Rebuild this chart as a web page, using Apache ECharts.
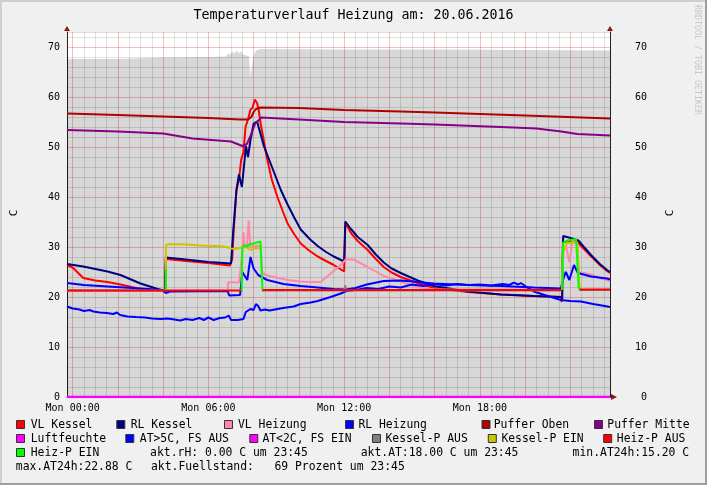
<!DOCTYPE html>
<html><head><meta charset="utf-8">
<script src="https://cdn.jsdelivr.net/npm/echarts@6/dist/echarts.min.js"></script>
<style>html,body{margin:0;padding:0;background:#f0f0f0;}#c{width:707px;height:485px;}</style>
</head><body><div id="c"></div>
<script>
// ---------- text ----------
const chartTitle = 'Temperaturverlauf Heizung am: 20.06.2016';
const yAxisName = 'C';
const watermark = 'RRDTOOL / TOBI OETIKER';
const xTickHours = [0, 6, 12, 18];
const xTickLabels = ['Mon 00:00', 'Mon 06:00', 'Mon 12:00', 'Mon 18:00'];
const xMin = -0.25, xMax = 23.75;      // hours
const yMin = 0, yMax = 73;

// ---------- data (hours, °C) ----------
const fuellT = [-0.25, 1.95, 2.0, 4.0, 6.0, 6.8, 6.85, 6.95, 7.05, 7.15, 7.25, 7.35, 7.45, 7.55, 7.6, 7.8, 7.85, 7.92, 7.98, 8.05, 8.1, 8.3, 12, 16, 20, 23.75];
const fuellV = [67.6, 67.6, 67.8, 67.9, 68.0, 68.1, 68.7, 68.4, 69.2, 68.6, 69.3, 68.8, 69.1, 68.5, 68.2, 68.1, 64.2, 66.0, 68.2, 68.3, 69.3, 69.6, 69.5, 69.5, 69.4, 69.3];

const vlKesselT = [-0.25, 0.0, 0.47, 1.0, 1.54, 2.11, 3.0, 3.9, 4.08, 4.12, 5.0, 6.0, 6.95, 7.05, 7.12, 7.24, 7.35, 7.45, 7.55, 7.64, 7.75, 7.86, 7.95, 8.05, 8.15, 8.22, 8.31, 8.45, 8.6, 8.8, 9.05, 9.3, 9.5, 9.8, 10.08, 10.45, 10.83, 11.2, 11.54, 12.0, 12.05, 12.16, 12.3, 12.6, 13.04, 13.4, 13.75, 14.1, 14.5, 15.25, 15.96, 17.5, 18.93, 20.4, 21.55, 21.62, 21.67, 22.3, 22.6, 22.9, 23.3, 23.62, 23.75];
const vlKesselV = [26.4, 25.9, 23.8, 23.3, 23.0, 22.5, 21.6, 21.3, 21.0, 27.6, 27.2, 26.8, 26.3, 27.5, 33.4, 41.4, 43.5, 47.5, 49.0, 54.0, 55.5, 57.5, 57.8, 59.5, 58.8, 57.5, 54.7, 51.2, 47.5, 43.5, 40.0, 37.0, 34.7, 32.5, 30.7, 29.3, 28.1, 27.2, 26.4, 25.1, 34.4, 34.0, 32.8, 31.2, 29.4, 27.6, 26.0, 24.9, 24.0, 22.8, 21.8, 21.0, 20.5, 20.2, 20.0, 19.0, 31.0, 31.0, 29.6, 28.2, 26.4, 25.2, 24.8];

const rlKesselT = [-0.25, 0.47, 1.54, 2.11, 3.0, 3.9, 4.08, 4.12, 5.0, 6.0, 7.0, 7.1, 7.24, 7.35, 7.48, 7.58, 7.66, 7.75, 7.86, 8.0, 8.15, 8.3, 8.45, 8.75, 9.2, 9.5, 9.78, 10.08, 10.5, 10.83, 11.2, 11.54, 12.0, 12.05, 12.12, 12.3, 12.6, 13.04, 13.4, 13.75, 14.1, 14.5, 15.25, 15.96, 17.46, 18.93, 20.38, 21.58, 21.64, 21.68, 22.0, 22.35, 22.6, 22.91, 23.3, 23.62, 23.75];
const rlKesselV = [26.6, 26.1, 25.1, 24.4, 22.7, 21.4, 21.1, 27.9, 27.5, 27.0, 26.7, 33.4, 41.4, 44.5, 42.0, 46.5, 50.2, 48.0, 51.4, 54.7, 55.1, 52.7, 50.2, 46.7, 41.4, 38.5, 36.0, 33.5, 31.5, 30.2, 29.0, 28.1, 27.1, 35.1, 34.7, 33.6, 32.0, 30.4, 28.5, 26.9, 25.7, 24.8, 23.3, 22.2, 21.1, 20.5, 20.2, 20.0, 19.5, 32.2, 31.8, 31.3, 30.0, 28.4, 26.6, 25.4, 25.0];

const vlHeizungT = [-0.25, 6.85, 6.88, 7.35, 7.42, 7.5, 7.55, 7.6, 7.7, 7.78, 7.85, 8.0, 8.3, 8.38, 8.6, 9.0, 9.5, 10.08, 10.5, 10.96, 11.4, 11.85, 12.07, 12.42, 13.04, 13.75, 14.5, 15.2, 16.0, 21.6, 21.7, 21.8, 21.95, 22.1, 22.3, 22.38, 22.9, 23.35, 23.75];
const vlHeizungV = [21.2, 21.2, 23.0, 22.9, 22.5, 29.0, 33.0, 30.0, 30.0, 35.3, 30.0, 30.2, 30.2, 24.8, 24.3, 23.9, 23.4, 23.1, 23.0, 23.0, 24.7, 26.4, 27.5, 27.5, 26.0, 24.2, 23.1, 22.0, 21.5, 21.5, 29.5, 30.3, 27.0, 31.2, 30.5, 25.0, 24.5, 23.7, 23.2];

const rlHeizungT = [-0.25, 0.5, 1.54, 3.0, 4.0, 4.08, 4.12, 4.3, 6.85, 6.92, 7.4, 7.5, 7.58, 7.72, 7.86, 8.0, 8.2, 8.6, 9.32, 10.08, 10.83, 11.54, 12.07, 12.5, 13.0, 13.75, 14.5, 15.25, 15.96, 17.46, 18.93, 20.38, 21.58, 21.65, 21.71, 21.8, 21.95, 22.16, 22.33, 22.91, 23.62, 23.75];
const rlHeizungV = [22.8, 22.4, 22.1, 21.7, 21.4, 21.2, 20.8, 21.1, 21.2, 20.3, 20.4, 25.0, 24.8, 23.4, 28.0, 25.7, 24.4, 23.4, 22.6, 22.2, 21.9, 21.6, 21.5, 21.8, 22.5, 23.2, 23.3, 23.0, 22.7, 22.4, 22.2, 21.9, 21.7, 21.3, 24.0, 25.0, 23.4, 26.4, 24.8, 24.1, 23.7, 23.5];

const pufferObenT = [-0.25, 2, 4, 6, 7.4, 7.75, 7.9, 8.0, 8.1, 8.3, 10, 12, 14.5, 16, 20, 23.75];
const pufferObenV = [56.7, 56.4, 56.1, 55.8, 55.5, 55.5, 56.0, 57.0, 57.6, 57.9, 57.8, 57.4, 57.1, 56.9, 56.3, 55.7];

const pufferMitteT = [-0.25, 2, 4, 5.3, 7.0, 7.5, 7.7, 7.85, 8.07, 8.35, 10, 12, 14.5, 16, 19.5, 20.5, 21.6, 22.3, 23.75];
const pufferMitteV = [53.4, 53.1, 52.7, 51.7, 51.1, 50.2, 50.6, 52.1, 54.7, 55.9, 55.5, 55.0, 54.7, 54.5, 53.9, 53.7, 53.1, 52.6, 52.3];

const luftfeuchteT = [-0.25, 23.75];
const luftfeuchteV = [0, 0];

const atWarmT = [-0.25, 0.0, 0.3, 0.5, 0.75, 0.92, 1.2, 1.5, 1.8, 1.95, 2.1, 2.42, 2.8, 3.2, 3.5, 3.88, 4.2, 4.5, 4.76, 5.0, 5.3, 5.6, 5.8, 6.0, 6.23, 6.5, 6.75, 6.9, 6.98, 7.0, 7.3, 7.55, 7.65, 7.86, 8.0, 8.1, 8.2, 8.3, 8.5, 8.7, 9.06, 9.3, 9.77, 10.08, 10.52, 10.83, 11.4, 11.85, 12.1, 12.5, 13.0, 13.5, 14.0, 14.5, 15.0, 15.5, 16.0, 16.5, 17.0, 17.5, 18.0, 18.5, 19.0, 19.3, 19.5, 19.7, 19.81, 20.0, 20.38, 21.0, 21.58, 22.0, 22.47, 23.0, 23.4, 23.75];
const atWarmV = [18.1, 17.7, 17.5, 17.2, 17.4, 17.1, 16.9, 16.8, 16.6, 16.9, 16.4, 16.1, 16.0, 15.9, 15.7, 15.6, 15.7, 15.5, 15.3, 15.6, 15.4, 15.8, 15.4, 15.9, 15.4, 15.8, 15.9, 16.3, 16.0, 15.4, 15.4, 15.6, 17.0, 17.6, 17.4, 18.6, 18.2, 17.3, 17.5, 17.3, 17.6, 17.8, 18.1, 18.6, 18.9, 19.2, 20.0, 20.7, 21.2, 21.4, 21.8, 21.6, 22.1, 21.9, 22.5, 22.2, 22.6, 22.3, 22.6, 22.4, 22.5, 22.3, 22.6, 22.4, 22.88, 22.5, 22.8, 22.2, 21.1, 20.2, 19.4, 19.2, 19.1, 18.6, 18.3, 18.0];

const atColdT = [];
const atColdV = [];

const kesselPAusT = [-0.25, 4.1, 4.11, 8.34, 8.36, 12.04, 12.05, 12.07, 21.63, 21.64, 22.4, 22.41, 23.75];
const kesselPAusV = [21.3, 21.3, null, null, 21.3, 21.3, 22.4, 21.3, 21.3, null, null, 21.4, 21.4];

const kesselPEinT = [4.11, 4.13, 4.3, 5.0, 5.65, 6.0, 6.5, 6.9, 7.0, 7.2, 7.4, 7.64, 7.86, 8.0, 8.2, 8.33, 8.34, 21.64, 21.68, 21.75, 21.85, 22.3, 22.4, 22.5];
const kesselPEinV = [21.3, 30.4, 30.6, 30.5, 30.3, 30.2, 30.2, 29.9, 29.7, 29.6, 29.8, 30.0, 29.4, 29.7, 29.8, 29.8, null, 21.4, 30.2, 29.5, 30.8, 30.9, 22.0, 21.8];

const heizPAusT = [-0.25, 7.48, 7.49, 8.37, 8.38, 21.63, 21.64, 22.38, 22.39, 23.75];
const heizPAusV = [21.3, 21.3, null, null, 21.4, 21.4, null, null, 21.5, 21.5];

const heizPEinT = [4.12, 4.13, 4.14, 7.47, 7.5, 7.6, 7.7, 7.8, 8.0, 8.3, 8.36, 8.39, 8.4, 21.64, 21.67, 21.8, 22.0, 22.25, 22.33, 22.37];
const heizPEinV = [21.4, 25.6, null, 21.3, 29.8, 30.4, 30.0, 30.5, 30.7, 31.1, 31.0, 21.5, null, 21.4, 30.8, 31.2, 31.4, 31.6, 31.5, 21.6];

// legend / info texts
const seriesNames = ['VL Kessel', 'RL Kessel', 'VL Heizung', 'RL Heizung', 'Puffer Oben', 'Puffer Mitte',
  'Luftfeuchte', 'AT>5C, FS AUS', 'AT<2C, FS EIN', 'Kessel-P AUS', 'Kessel-P EIN', 'Heiz-P AUS', 'Heiz-P EIN'];
const infoTexts = ['akt.rH: 0.00 C um 23:45', 'akt.AT:18.00 C um 23:45', 'min.AT24h:15.20 C',
  'max.AT24h:22.88 C', 'akt.Fuellstand:   69 Prozent um 23:45'];

// ---------- styles ----------
const colors = ['#ff0000', '#000080', '#ff88aa', '#0000ff', '#b00000', '#880088',
  '#ff00ff', '#0000ff', '#ff00ff', '#808080', '#c8c800', '#ff0000', '#00ff00'];
const seriesData = [
  [vlKesselT, vlKesselV], [rlKesselT, rlKesselV], [vlHeizungT, vlHeizungV], [rlHeizungT, rlHeizungV],
  [pufferObenT, pufferObenV], [pufferMitteT, pufferMitteV], [luftfeuchteT, luftfeuchteV],
  [atWarmT, atWarmV], [atColdT, atColdV], [kesselPAusT, kesselPAusV], [kesselPEinT, kesselPEinV],
  [heizPAusT, heizPAusV], [heizPEinT, heizPEinV]
];
const MONO = '"DejaVu Sans Mono", monospace';
const pairs = (t, v) => t.map((x, i) => [x, v[i]]);

// category axis used only for vertical grid lines / labels (15 min steps)
const cats = [];
for (let h = xMin; h <= xMax + 1e-9; h += 0.25) cats.push(h.toFixed(2));
const hourOf = i => xMin + i * 0.25;
const isMult = (h, m) => Math.abs(h / m - Math.round(h / m)) < 1e-6;

const chart = echarts.init(document.getElementById('c'), null, {renderer: 'canvas'});

const series = [{
  type: 'line', name: 'Fuellstand', data: pairs(fuellT, fuellV), showSymbol: false,
  lineStyle: {width: 0}, areaStyle: {color: 'rgba(0,0,0,0.155)', opacity: 1}, z: 1, silent: true
}];
seriesData.forEach((d, i) => {
  series.push({
    type: 'line', name: seriesNames[i], data: pairs(d[0], d[1]), showSymbol: false, connectNulls: false,
    lineStyle: {width: i === 6 ? 2.5 : 2, color: colors[i]}, itemStyle: {color: colors[i]}, z: 2 + i, silent: true
  });
});

const gMinor = 'rgba(120,120,120,0.22)';
const gMajor = 'rgba(225,60,60,0.32)';

chart.setOption({
  animation: false,
  backgroundColor: '#f0f0f0',
  grid: {left: 67, right: 97, top: 32, bottom: 88, show: true, backgroundColor: '#ffffff', borderWidth: 0},
  xAxis: [
    {type: 'value', min: xMin, max: xMax, axisLine: {show: true, onZero: false, lineStyle: {color: '#202020', width: 1}},
      axisTick: {show: false}, axisLabel: {show: false}, splitLine: {show: false}},
    {type: 'category', data: cats, boundaryGap: false, position: 'bottom', axisLine: {show: false, onZero: false}, axisTick: {show: false},
      axisLabel: {interval: (i) => xTickHours.some(h => Math.abs(h - hourOf(i)) < 1e-6),
        formatter: (v, i) => { const k = xTickHours.findIndex(h => Math.abs(h - hourOf(i)) < 1e-6); return k >= 0 ? xTickLabels[k] : ''; },
        fontFamily: MONO, fontSize: 10, color: '#000', margin: 6},
      splitLine: {show: true, interval: (i) => isMult(hourOf(i), 0.5) && !isMult(hourOf(i), 2), lineStyle: {color: gMinor, width: 1}}},
    {type: 'category', data: cats, boundaryGap: false, position: 'bottom', axisLine: {show: false, onZero: false}, axisTick: {show: false},
      axisLabel: {show: false},
      splitLine: {show: true, interval: (i) => isMult(hourOf(i), 2), lineStyle: {color: gMajor, width: 1}}}
  ],
  yAxis: [
    {type: 'value', min: yMin, max: yMax, interval: 2, position: 'left',
      axisLine: {show: true, onZero: false, lineStyle: {color: '#202020', width: 1}}, axisTick: {show: false}, axisLabel: {show: false},
      splitLine: {show: true, lineStyle: {color: ['rgba(0,0,0,0)', gMinor, gMinor, gMinor, gMinor], width: 1}}},
    {type: 'value', min: yMin, max: yMax, interval: 10, position: 'left',
      axisLine: {show: false, onZero: false}, axisTick: {show: false},
      axisLabel: {fontFamily: MONO, fontSize: 10, color: '#000', margin: 7, showMaxLabel: false},
      splitLine: {show: true, showMaxLine: false, lineStyle: {color: gMajor, width: 1}}},
    {type: 'value', min: yMin, max: yMax, interval: 10, position: 'right',
      axisLine: {show: true, onZero: false, lineStyle: {color: '#202020', width: 1}}, axisTick: {show: false},
      axisLabel: {fontFamily: MONO, fontSize: 10, color: '#000', margin: 37, align: 'right', showMaxLabel: false},
      splitLine: {show: false}}
  ],
  series: series
});

// ---------- graphics: texts, legend, arrows, frame ----------
const g = [];
const tl = chart.convertToPixel({xAxisIndex: 0, yAxisIndex: 0}, [xMin, yMax]);
const br = chart.convertToPixel({xAxisIndex: 0, yAxisIndex: 0}, [xMax, yMin]);
const arrowC = '#7f1f1f';
[tl[0], br[0]].forEach(x => g.push({type: 'polygon', shape: {points: [[x, tl[1] - 6], [x - 3, tl[1] - 1], [x + 3, tl[1] - 1]]}, style: {fill: arrowC}, z: 100}));
g.push({type: 'polygon', shape: {points: [[br[0] + 7, br[1]], [br[0] + 1, br[1] - 3], [br[0] + 1, br[1] + 3]]}, style: {fill: arrowC}, z: 100});

// frame (3D border)
g.push({type: 'rect', shape: {x: 0, y: 0, width: 707, height: 2}, style: {fill: '#cfcfcf'}, z: 90});
g.push({type: 'rect', shape: {x: 0, y: 0, width: 2, height: 485}, style: {fill: '#cfcfcf'}, z: 90});
g.push({type: 'rect', shape: {x: 0, y: 483, width: 707, height: 2}, style: {fill: '#9e9e9e'}, z: 91});
g.push({type: 'rect', shape: {x: 705, y: 0, width: 2, height: 485}, style: {fill: '#9e9e9e'}, z: 91});

// title
g.push({type: 'text', x: 353.5, y: 16, style: {text: chartTitle, font: '13.3px ' + MONO, fill: '#000', align: 'center', verticalAlign: 'middle'}, z: 100});
// axis names
g.push({type: 'text', x: 14, y: 213, rotation: Math.PI / 2, style: {text: yAxisName, font: '11px ' + MONO, fill: '#000', align: 'center', verticalAlign: 'middle'}, z: 100});
g.push({type: 'text', x: 670, y: 213, rotation: Math.PI / 2, style: {text: yAxisName, font: '11px ' + MONO, fill: '#000', align: 'center', verticalAlign: 'middle'}, z: 100});
// watermark
g.push({type: 'text', x: 697, y: 60, rotation: -Math.PI / 2, style: {text: watermark, font: '8.3px ' + MONO, fill: '#c8c8c8', align: 'center', verticalAlign: 'middle'}, z: 100});

// legend layout: [seriesIndex, boxX, textX, rowY]
const legendLayout = [
  [0, 16, 30.7, 425], [1, 116.3, 130.7, 425], [2, 224, 238, 425], [3, 345, 358.4, 425], [4, 481.5, 493.7, 425], [5, 594, 607.3, 425],
  [6, 16, 30.7, 439], [7, 125.3, 139.8, 439], [8, 249.3, 262.4, 439], [9, 372, 385.5, 439], [10, 487.8, 501.4, 439], [11, 603.2, 616.8, 439],
  [12, 16, 30.7, 453]
];
const LFONT = '11.4px ' + MONO;
legendLayout.forEach(([si, bx, tx, ry]) => {
  g.push({type: 'rect', shape: {x: bx + 0.5, y: ry - 4.5, width: 8, height: 8}, style: {fill: colors[si], stroke: '#333', lineWidth: 1}, z: 100});
  g.push({type: 'text', x: tx, y: ry, style: {text: seriesNames[si], font: LFONT, fill: '#000', verticalAlign: 'middle'}, z: 100});
});
const infoLayout = [[150.1, 453], [360.7, 453], [572.6, 453], [15.8, 467], [151, 467]];
infoLayout.forEach(([x, y], i) => {
  g.push({type: 'text', x: x, y: y, style: {text: infoTexts[i], font: LFONT, fill: '#000', verticalAlign: 'middle'}, z: 100});
});

chart.setOption({graphic: g});
</script></body></html>
